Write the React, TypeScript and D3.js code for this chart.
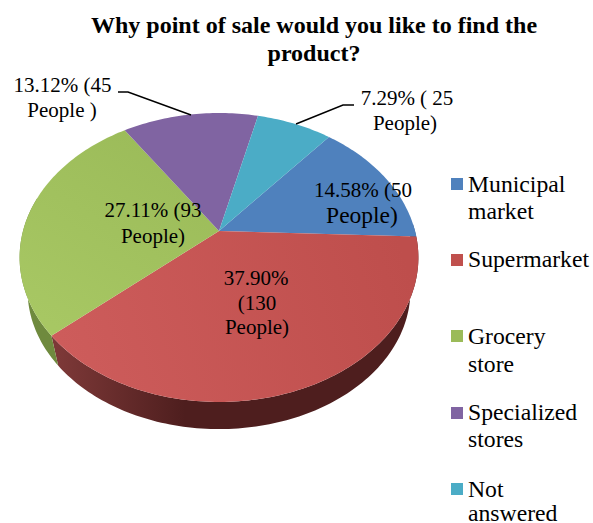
import React from "react";
import * as d3 from "d3";

const categories = ["Municipal market", "Supermarket", "Grocery store", "Specialized stores", "Not answered"];
const people = [50, 130, 93, 45, 25];
const sliceColors = ["#4f81bd", "url(#redTop)", "url(#greenTop)", "#8064a2", "#4bacc6"];
const swatchColors = ["#4f81bd", "#c0504d", "#9bbb59", "#8064a2", "#4bacc6"];
const wallColors = ["#3a5f8c", "url(#redWall)", "#6f8a3e", "#5e4a78", "#37808f"];

const titleLines = ["Why point of sale would you like to find the", "product?"];

const legendRows = [
  { swatchY: 178, lines: [["Municipal", 192], ["market", 219]] },
  { swatchY: 254, lines: [["Supermarket", 267]] },
  { swatchY: 330, lines: [["Grocery", 344], ["store", 372]] },
  { swatchY: 407, lines: [["Specialized", 420], ["stores", 447]] },
  { swatchY: 483, lines: [["Not", 497], ["answered", 521]] },
] as { swatchY: number; lines: [string, number][] }[];

const sliceLabels = [
  { text: "14.58% (50", x: 363, y: 197, size: 21 },
  { text: "People)", x: 362, y: 223, size: 23.5 },
  { text: "37.90%", x: 256, y: 285, size: 21 },
  { text: "(130", x: 257, y: 310, size: 21 },
  { text: "People)", x: 257, y: 334, size: 21 },
  { text: "27.11% (93", x: 153, y: 217, size: 21 },
  { text: "People)", x: 153, y: 243, size: 21 },
  { text: "13.12% (45", x: 62.5, y: 92, size: 21 },
  { text: "People )", x: 62, y: 117, size: 21 },
  { text: "7.29% ( 25", x: 407, y: 105, size: 21 },
  { text: "People)", x: 405, y: 130, size: 21 },
];

const leaderLines: [number, number][][] = [
  [[118, 92], [128, 92], [191, 115]],
  [[296, 124], [343, 105], [354, 105]],
];

const START_DEG = 39.8;
const FONT = '"Liberation Serif", "Times New Roman", serif';

// The tilted disc is a perspective view of a circle: nearer rim parts sit
// further from the hub, so the hub is above the centre of the drawn ellipse.
const hub = { x: 219, y: 231 };
const RX = 196;
const RY = 139.6;
const TILT = 0.1834;

const project = (angle: number, scale = 1, cy = hub.y): [number, number] => {
  const ux = Math.sin(angle);
  const uy = -Math.cos(angle);
  const w = 1 - TILT * uy;
  return [hub.x + (scale * RX * ux) / w, cy + (scale * RY * uy) / w];
};

const samples = (a0: number, a1: number) => {
  const n = Math.max(2, Math.ceil(Math.abs(a1 - a0) / 0.02));
  return d3.range(n + 1).map((i) => a0 + ((a1 - a0) * i) / n);
};

const line = d3.line<[number, number]>();

const pie = d3
  .pie<number>()
  .sort(null)
  .startAngle((START_DEG * Math.PI) / 180)
  .endAngle((START_DEG * Math.PI) / 180 + 2 * Math.PI);

const WALL_SCALE = 0.96;
const WALL_CY = 265;
const FRONT_LO = Math.PI / 2 - 0.05;
const FRONT_HI = (3 * Math.PI) / 2 + 0.25;

export default function App() {
  const arcs = pie(people);

  return (
    <svg
      width={593}
      height={523}
      viewBox="0 0 593 523"
      style={{ position: "absolute", left: 0, top: 0, background: "#fff" }}
      fontFamily={FONT}
    >
      <defs>
        <linearGradient id="redTop" gradientUnits="userSpaceOnUse" x1="60" y1="340" x2="400" y2="240">
          <stop offset="0" stopColor="#cd5c5b" />
          <stop offset="1" stopColor="#be4e4c" />
        </linearGradient>
        <linearGradient id="greenTop" gradientUnits="userSpaceOnUse" x1="60" y1="330" x2="180" y2="140">
          <stop offset="0" stopColor="#a7c763" />
          <stop offset="1" stopColor="#9bbb59" />
        </linearGradient>
        <linearGradient id="redWall" gradientUnits="userSpaceOnUse" x1="60" y1="0" x2="185" y2="0">
          <stop offset="0" stopColor="#7c3837" />
          <stop offset="1" stopColor="#4e1e1e" />
        </linearGradient>
      </defs>

      {arcs.map((a, i) => {
        const lo = Math.max(a.startAngle, FRONT_LO);
        const hi = Math.min(a.endAngle, FRONT_HI);
        if (hi <= lo) return null;
        const upper = samples(lo, hi).map((t) => project(t));
        const lower = samples(hi, lo).map((t) => project(t, WALL_SCALE, WALL_CY));
        return (
          <path
            key={`wall-${i}`}
            d={line([...upper, ...lower])! + "Z"}
            fill={wallColors[i]}
          />
        );
      })}

      {arcs.map((a, i) => (
        <path
          key={`slice-${i}`}
          d={line([[hub.x, hub.y], ...samples(a.startAngle, a.endAngle).map((t) => project(t))])! + "Z"}
          fill={sliceColors[i]}
        />
      ))}

      {leaderLines.map((pts, i) => (
        <path key={`leader-${i}`} d={line(pts)!} fill="none" stroke="#000" strokeWidth={1.5} />
      ))}

      {titleLines.map((t, i) => (
        <text key={t} x={314} y={33 + i * 28} textAnchor="middle" fontSize={24} fontWeight="bold" fill="#000">
          {t}
        </text>
      ))}

      {sliceLabels.map((l, i) => (
        <text key={`label-${i}`} x={l.x} y={l.y} textAnchor="middle" fontSize={l.size} fill="#000">
          {l.text}
        </text>
      ))}

      {legendRows.map((row, i) => (
        <g key={categories[i]}>
          <rect x={451} y={row.swatchY} width={12} height={12} fill={swatchColors[i]} />
          {row.lines.map(([t, y]) => (
            <text key={t} x={468} y={y} fontSize={23.7} fill="#000">
              {t}
            </text>
          ))}
        </g>
      ))}
    </svg>
  );
}
